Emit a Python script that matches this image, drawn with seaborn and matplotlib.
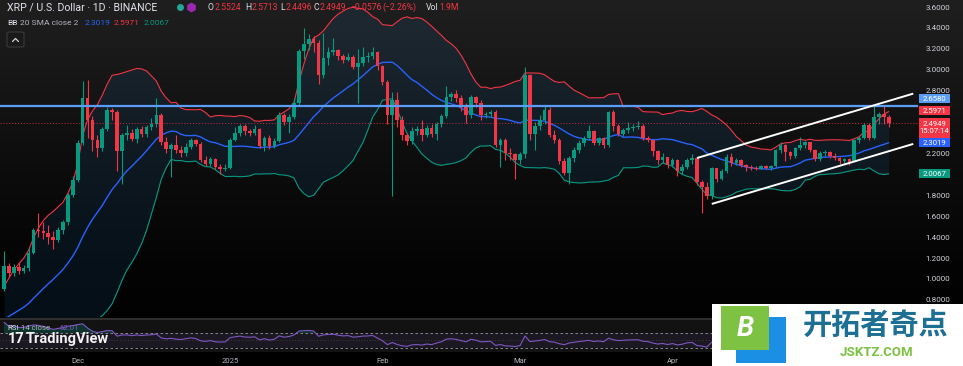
import numpy as np
import pandas as pd
import matplotlib
matplotlib.use("Agg")
import matplotlib.pyplot as plt
import seaborn as sns
from matplotlib.patches import Rectangle, FancyBboxPatch
from matplotlib.transforms import blended_transform_factory

# ---------------- data (XRP / USD, 1D, Binance) ----------------
start_date = "2024-11-16"
end_date = "2025-05-15"

opens = [0.90, 1.12, 1.06, 1.11, 1.08, 1.10, 1.25, 1.47, 1.46, 1.44,
         1.40, 1.37, 1.47, 1.54, 1.80, 1.95, 2.30, 2.73, 2.52, 2.33,
         2.25, 2.43, 2.615, 2.60, 2.22, 2.38, 2.40, 2.34, 2.43, 2.39,
         2.45, 2.48, 2.57, 2.31, 2.24, 2.28, 2.23, 2.20, 2.26, 2.33,
         2.29, 2.14, 2.10, 2.15, 2.07, 2.05, 2.06, 2.33, 2.40, 2.46,
         2.41, 2.40, 2.43, 2.27, 2.35, 2.27, 2.32, 2.57, 2.50, 2.55,
         2.68, 3.18, 3.25, 3.29, 3.26, 2.95, 3.11, 3.17, 3.19, 3.13,
         3.09, 3.12, 3.03, 3.06, 3.12, 3.13, 3.17, 3.04, 2.88, 2.57,
         2.71, 2.52, 2.38, 2.32, 2.41, 2.43, 2.38, 2.44, 2.39, 2.48,
         2.56, 2.74, 2.77, 2.73, 2.65, 2.57, 2.74, 2.68, 2.57, 2.58,
         2.60, 2.28, 2.33, 2.20, 2.19, 2.14, 2.19, 2.95, 2.39, 2.46,
         2.52, 2.62, 2.38, 2.33, 2.13, 2.01, 2.16, 2.23, 2.30, 2.35,
         2.41, 2.30, 2.345, 2.28, 2.60, 2.46, 2.39, 2.42, 2.44, 2.45,
         2.46, 2.35, 2.33, 2.22, 2.14, 2.17, 2.09, 2.14, 2.03, 2.07,
         2.14, 2.16, 1.93, 1.88, 1.79, 2.06, 1.96, 2.03, 2.17, 2.11,
         2.14, 2.09, 2.07, 2.06, 2.055, 2.08, 2.06, 2.08, 2.23, 2.28,
         2.21, 2.18, 2.25, 2.28, 2.31, 2.23, 2.15, 2.20, 2.21, 2.18,
         2.16, 2.13, 2.15, 2.12, 2.33, 2.35, 2.47, 2.35, 2.55, 2.58, 2.5524]

highs = [1.27, 1.15, 1.14, 1.15, 1.13, 1.30, 1.49, 1.63, 1.54, 1.52,
         1.46, 1.50, 1.56, 1.82, 1.98, 2.33, 2.89, 2.90, 2.56, 2.38,
         2.45, 2.64, 2.63, 2.62, 2.40, 2.47, 2.43, 2.45, 2.46, 2.47,
         2.54, 2.73, 2.59, 2.36, 2.30, 2.38, 2.27, 2.30, 2.35, 2.34,
         2.31, 2.18, 2.17, 2.16, 2.10, 2.10, 2.35, 2.45, 2.48, 2.48,
         2.43, 2.47, 2.44, 2.37, 2.38, 2.35, 2.60, 2.59, 2.58, 2.73,
         3.20, 3.40, 3.34, 3.32, 3.28, 3.35, 3.22, 3.30, 3.20, 3.15,
         3.16, 3.14, 3.20, 3.22, 3.17, 3.22, 3.18, 3.05, 2.90, 2.79,
         2.79, 2.56, 2.40, 2.45, 2.46, 2.52, 2.47, 2.48, 2.50, 2.58,
         2.84, 2.79, 2.81, 2.76, 2.68, 2.76, 2.75, 2.71, 2.60, 2.62,
         2.62, 2.35, 2.35, 2.25, 2.20, 2.21, 3.03, 2.96, 2.50, 2.57,
         2.65, 2.64, 2.42, 2.35, 2.16, 2.18, 2.26, 2.33, 2.37, 2.47,
         2.42, 2.36, 2.36, 2.61, 2.62, 2.48, 2.44, 2.50, 2.48, 2.51,
         2.48, 2.37, 2.34, 2.23, 2.20, 2.17, 2.16, 2.15, 2.10, 2.16,
         2.19, 2.17, 1.95, 1.93, 2.07, 2.06, 2.05, 2.19, 2.20, 2.16,
         2.15, 2.10, 2.09, 2.08, 2.09, 2.09, 2.09, 2.24, 2.31, 2.29,
         2.22, 2.26, 2.36, 2.32, 2.31, 2.24, 2.22, 2.23, 2.22, 2.20,
         2.17, 2.16, 2.16, 2.34, 2.37, 2.49, 2.49, 2.65, 2.60, 2.658, 2.5713]

lows = [0.88, 1.02, 1.03, 1.05, 1.06, 1.08, 1.24, 1.40, 1.38, 1.33,
        1.29, 1.35, 1.43, 1.52, 1.78, 1.93, 2.28, 2.35, 2.22, 2.17,
        2.22, 2.41, 2.52, 2.03, 1.91, 2.33, 2.32, 2.30, 2.36, 2.36,
        2.42, 2.45, 2.28, 2.20, 1.97, 2.20, 2.17, 2.18, 2.24, 2.27,
        2.12, 2.08, 2.08, 2.05, 2.00, 2.03, 2.05, 2.32, 2.37, 2.38,
        2.37, 2.38, 2.25, 2.22, 2.24, 2.25, 2.31, 2.47, 2.40, 2.53,
        2.66, 3.10, 3.19, 3.17, 2.86, 2.92, 3.05, 3.14, 3.09, 3.06,
        3.08, 3.01, 2.68, 3.04, 3.07, 3.10, 3.00, 2.85, 2.48, 1.79,
        2.45, 2.33, 2.28, 2.29, 2.38, 2.32, 2.36, 2.36, 2.33, 2.45,
        2.54, 2.70, 2.69, 2.61, 2.49, 2.54, 2.64, 2.52, 2.54, 2.55,
        2.26, 2.07, 2.14, 2.14, 1.96, 2.10, 2.16, 2.33, 2.23, 2.42,
        2.48, 2.36, 2.30, 2.10, 1.99, 1.91, 2.12, 2.20, 2.27, 2.33,
        2.28, 2.28, 2.25, 2.26, 2.41, 2.37, 2.37, 2.40, 2.41, 2.43,
        2.33, 2.31, 2.18, 2.10, 2.11, 2.06, 2.07, 1.98, 2.00, 2.05,
        2.10, 1.90, 1.63, 1.76, 1.76, 1.93, 1.95, 2.01, 2.08, 2.09,
        2.07, 2.03, 2.04, 2.04, 2.05, 2.05, 2.04, 2.07, 2.20, 2.13,
        2.15, 2.16, 2.23, 2.25, 2.21, 2.13, 2.13, 2.18, 2.16, 2.14,
        2.10, 2.11, 2.09, 2.12, 2.30, 2.34, 2.33, 2.34, 2.48, 2.48, 2.4496]

closes = [1.12, 1.06, 1.11, 1.08, 1.10, 1.25, 1.47, 1.46, 1.44, 1.40,
          1.37, 1.47, 1.54, 1.80, 1.95, 2.30, 2.73, 2.52, 2.33, 2.25,
          2.43, 2.615, 2.60, 2.22, 2.38, 2.40, 2.34, 2.43, 2.39, 2.45,
          2.48, 2.57, 2.31, 2.24, 2.28, 2.23, 2.20, 2.26, 2.33, 2.29,
          2.14, 2.10, 2.15, 2.07, 2.05, 2.06, 2.33, 2.40, 2.46, 2.41,
          2.40, 2.43, 2.27, 2.35, 2.27, 2.32, 2.57, 2.50, 2.55, 2.68,
          3.18, 3.25, 3.29, 3.26, 2.95, 3.11, 3.17, 3.19, 3.13, 3.09,
          3.12, 3.03, 3.06, 3.12, 3.13, 3.17, 3.04, 2.88, 2.57, 2.71,
          2.52, 2.38, 2.32, 2.41, 2.43, 2.38, 2.44, 2.39, 2.48, 2.56,
          2.74, 2.77, 2.73, 2.65, 2.57, 2.74, 2.68, 2.57, 2.58, 2.60,
          2.28, 2.33, 2.20, 2.19, 2.14, 2.19, 2.95, 2.39, 2.46, 2.52,
          2.62, 2.38, 2.33, 2.13, 2.01, 2.16, 2.23, 2.30, 2.35, 2.41,
          2.30, 2.345, 2.28, 2.60, 2.46, 2.39, 2.42, 2.44, 2.45, 2.46,
          2.35, 2.33, 2.22, 2.14, 2.17, 2.09, 2.14, 2.03, 2.07, 2.14,
          2.16, 1.93, 1.88, 1.79, 2.06, 1.96, 2.03, 2.17, 2.11, 2.14,
          2.09, 2.07, 2.06, 2.055, 2.08, 2.06, 2.08, 2.23, 2.28, 2.21,
          2.18, 2.25, 2.28, 2.31, 2.23, 2.15, 2.20, 2.21, 2.18, 2.16,
          2.13, 2.15, 2.12, 2.33, 2.35, 2.47, 2.35, 2.55, 2.58, 2.5524, 2.4949]

# closes of the 19 sessions before the visible window (Bollinger / RSI warm-up)
warmup_closes = [0.522, 0.527, 0.518, 0.507, 0.508, 0.508, 0.503, 0.499, 0.511,
                 0.536, 0.549, 0.561, 0.574, 0.615, 0.645, 0.702, 0.718, 0.776, 0.903]

price_ticks = [0.8, 1.0, 1.2, 1.4, 1.6, 1.8, 2.0, 2.2, 2.4, 2.6, 2.8, 3.0, 3.2, 3.4, 3.6]
hidden_ticks = [2.0, 2.4, 2.6]          # covered by the price-scale badges
month_labels = ["Dec", "2025", "Feb", "Mar", "Apr", "May"]
month_dates = ["2024-12-01", "2025-01-01", "2025-02-01", "2025-03-01", "2025-04-01", "2025-05-01"]

hline_price = 2.6580
channel_upper_dates = ["2025-04-06", "2025-05-20"]
channel_upper_prices = [2.156, 2.772]
channel_lower_dates = ["2025-04-09", "2025-05-20"]
channel_lower_prices = [1.717, 2.291]
rsi_value_text = "62.01"

assert len(opens) == len(highs) == len(lows) == len(closes) == 181

# ---------------- derived series ----------------
dates = pd.date_range(start_date, end_date, freq="D")
idx = np.arange(len(dates))
o = np.array(opens); h = np.array(highs); l = np.array(lows); c = np.array(closes)

def date_index(d):
    return (pd.Timestamp(d) - dates[0]).days

allc = pd.Series(warmup_closes + closes)
basis = allc.rolling(20).mean().to_numpy()[-len(c):]
sd = allc.rolling(20).std(ddof=0).to_numpy()[-len(c):]
upper = basis + 2 * sd
lower = basis - 2 * sd

delta = allc.diff()
gain = delta.clip(lower=0).ewm(alpha=1 / 14, adjust=False).mean()
loss = (-delta.clip(upper=0)).ewm(alpha=1 / 14, adjust=False).mean()
rsi = (100 - 100 / (1 + gain / loss)).to_numpy()[-len(c):]

# ---------------- style ----------------
sns.set_theme(style="dark", rc={"axes.facecolor": (0, 0, 0, 0), "figure.facecolor": "black",
                                "axes.edgecolor": (0, 0, 0, 0), "axes.grid": False})
plt.rcParams["font.family"] = ["Roboto", "DejaVu Sans"]

UP = "#089981"
DOWN = "#f23645"
TXT = "#e0e3eb"
W, H = 963, 366

def fx(px):
    return px / W

def fy(py):
    return 1 - py / H

fig = plt.figure(figsize=(W / 100, H / 100), dpi=100)
renderer = fig.canvas.get_renderer()

# background gradient
bg = fig.add_axes([0, 0, 1, 1], zorder=-10)
rows = np.arange(H)
shade = np.interp(rows, [0, 40, 150, 260, 366], [31, 27, 14, 4, 0]) / 255
img = np.repeat(shade[:, None], 3, axis=1)[:, None, :]
bg.imshow(img, aspect="auto", extent=[0, 1, 0, 1], origin="upper")
bg.axis("off")

XL = (-0.814, 185.96)
YL = (0.636, 3.667)

# ---------------- main price panel ----------------
ax = fig.add_axes([0, fy(317), fx(918), 317 / H])
ax.set_xlim(*XL)
ax.set_ylim(*YL)

ax.fill_between(idx, lower, upper, color="#2196f3", alpha=0.09, lw=0, zorder=1)
sns.lineplot(x=idx, y=upper, ax=ax, color=DOWN, lw=0.8, zorder=2)
sns.lineplot(x=idx, y=lower, ax=ax, color=UP, lw=0.8, zorder=2)
sns.lineplot(x=idx, y=basis, ax=ax, color="#2962ff", lw=1.0, zorder=2)

colors = np.where(c >= o, UP, DOWN)
ax.vlines(idx, l, h, colors=colors, lw=0.8, zorder=3)
body = np.maximum(np.abs(c - o), 0.008)
ax.bar(idx, body, bottom=np.minimum(o, c), width=0.74, color=colors, lw=0, zorder=4)

ax.axhline(hline_price, color="#5b9cf6", lw=1.6, zorder=5)
ax.axhline(c[-1], color=DOWN, lw=0.7, ls=(0, (1, 2)), alpha=0.8, zorder=5)

ax.plot([date_index(d) for d in channel_upper_dates], channel_upper_prices, color="white", lw=1.4, zorder=6,
        clip_on=False, solid_capstyle="butt")
ax.plot([date_index(d) for d in channel_lower_dates], channel_lower_prices, color="white", lw=1.4, zorder=6,
        clip_on=False, solid_capstyle="butt")

ax.set_xlabel(""); ax.set_ylabel("")
ax.set_xticks([])
ax.yaxis.tick_right()
ax.set_yticks(price_ticks)
ax.set_yticklabels(["" if any(abs(v - t) < 1e-9 for t in hidden_ticks) else f"{v:.4f}" for v in price_ticks])
ax.tick_params(axis="y", length=0, pad=5.5, labelsize=5.8, labelcolor="#d1d4dc")
for s in ax.spines.values():
    s.set_visible(False)

# price badges on the right scale
ytr = blended_transform_factory(fig.transFigure, ax.transData)
px_per_price = 317 / (YL[1] - YL[0])

def price_box(y_price, text, face, color="white", h_px=9.0):
    box_h = h_px / px_per_price
    rect = Rectangle((fx(919), y_price - box_h / 2), fx(31), box_h,
                     transform=ytr, facecolor=face, edgecolor="none", zorder=8)
    fig.patches.append(rect)
    fig.text(fx(934.5), y_price, text, transform=ytr, ha="center", va="center",
             fontsize=5.6, color=color, zorder=9, linespacing=1.05)

price_box(2.725, "2.6580", "#5b9cf6")
price_box(2.610, "2.5971", DOWN)
price_box(2.447, f"{c[-1]:.4f}\n15:07:14", DOWN, h_px=20)
price_box(2.3019, "2.3019", "#2962ff")
price_box(2.0067, "2.0067", UP)

# ---------------- RSI panel ----------------
rax = fig.add_axes([0, fy(352), fx(918), 33 / H])
rax.set_facecolor("#121212")
rax.set_xlim(*XL)
rax.set_ylim(19.3, 107.3)
rax.axhspan(30, 70, color="#7e57c2", alpha=0.09, lw=0)
rax.axhline(70, color="#9598a1", lw=0.6, ls=(0, (3, 3)))
rax.axhline(30, color="#9598a1", lw=0.6, ls=(0, (3, 3)))
rax.axhline(50, color="#9598a1", lw=0.5, ls=(0, (1, 3)), alpha=0.5)
rax.fill_between(idx, rsi, 70, where=rsi > 70, color=UP, alpha=0.25, lw=0, interpolate=True)
sns.lineplot(x=idx, y=rsi, ax=rax, color="#7e57c2", lw=0.8)
rax.set_xlabel(""); rax.set_ylabel("")
rax.set_yticks([])
rax.set_xticks([date_index(d) for d in month_dates])
rax.set_xticklabels(month_labels)
rax.tick_params(axis="x", length=0, pad=4, labelsize=5.5, labelcolor="#b2b5be")
for s in rax.spines.values():
    s.set_visible(False)

fig.add_artist(plt.Line2D([0, fx(918)], [fy(318.5), fy(318.5)], color="#2e2e2e", lw=1.5,
                          transform=fig.transFigure))

# ---------------- legend texts ----------------
fig.text(fx(7), fy(7.5), "XRP / U.S. Dollar · 1D · BINANCE", fontsize=7.6, color=TXT,
         va="center", ha="left")
fig.add_artist(plt.Line2D([fx(180)], [fy(7)], marker="o", ms=4, color="#26a69a",
                          transform=fig.transFigure))
fig.add_artist(plt.Line2D([fx(191)], [fy(7)], marker="h", ms=6, color="#9c27b0",
                          transform=fig.transFigure))

def label_value(px, py, label, value, vcol, size):
    t = fig.text(fx(px), fy(py), label, fontsize=size, color=TXT, va="center", ha="left")
    x1 = t.get_window_extent(renderer).x1 if label else px
    fig.text(x1 / W + fx(0.5), fy(py), value, fontsize=size, color=vcol, va="center", ha="left")

label_value(208, 7.5, "O", "2.5524", DOWN, 6.2)
label_value(245, 7.5, "H", "2.5713", DOWN, 6.2)
label_value(280, 7.5, "L", "2.4496", DOWN, 6.2)
label_value(313, 7.5, "C", "2.4949", DOWN, 6.2)
fig.text(fx(350), fy(7.5), "−0.0576", fontsize=6.2, color=DOWN, va="center", ha="left")
fig.text(fx(382), fy(7.5), "(−2.26%)", fontsize=6.2, color=DOWN, va="center", ha="left")
label_value(426, 7.5, "Vol", "1.9M", DOWN, 6.2)

bb_parts = [(7, "BB", TXT), (20, "20 SMA close 2", "#b2b5be"), (85, "2.3019", "#2962ff"),
            (114, "2.5971", DOWN), (144, "2.0067", UP)]
for px, t, col in bb_parts:
    fig.text(fx(px), fy(23), t, fontsize=6.0, color=col, va="center", ha="left")

btn = FancyBboxPatch((fx(7), fy(47)), fx(17), 15 / H, boxstyle="round,pad=0,rounding_size=0.003",
                     transform=fig.transFigure, facecolor="#1a1a1a", edgecolor="#3a3a3a", lw=0.8)
fig.patches.append(btn)
fig.add_artist(plt.Line2D([fx(12.5), fx(15.5), fx(18.5)], [fy(41.5), fy(38.5), fy(41.5)],
                          color="#d1d4dc", lw=0.9, transform=fig.transFigure))

# RSI legend + TradingView mark
fig.text(fx(7), fy(327.5), "RSI", fontsize=5.6, color=TXT, va="center", ha="left", zorder=6)
fig.text(fx(21), fy(327.5), "14 close", fontsize=5.6, color="#b2b5be", va="center", ha="left", zorder=6)
fig.text(fx(59), fy(327.5), rsi_value_text, fontsize=5.6, color="#7e57c2", va="center", ha="left", zorder=6)
fig.text(fx(8), fy(339), "17", fontsize=10.5, color="white", fontweight="bold", va="center", ha="left",
         zorder=6, alpha=0.95)
fig.text(fx(26), fy(339), "TradingView", fontsize=10.5, color="white", fontweight="bold", va="center",
         ha="left", zorder=6, alpha=0.95)

# ---------------- watermark ----------------
fig.patches.append(Rectangle((fx(712), 0), 1 - fx(712), 62 / H, transform=fig.transFigure,
                             facecolor="white", edgecolor="none", zorder=10))
fig.patches.append(Rectangle((fx(736), fy(363)), fx(50), 46 / H, transform=fig.transFigure,
                             facecolor="#1a8fe3", edgecolor="none", zorder=11))
fig.patches.append(Rectangle((fx(721), fy(350)), fx(48), 44 / H, transform=fig.transFigure,
                             facecolor="#7dc242", edgecolor="none", zorder=12))
fig.text(fx(745), fy(328), "B", fontsize=20, color="white", fontweight="bold", style="italic",
         ha="center", va="center", zorder=13)
fig.text(fx(876), fy(326), "开拓者奇点", fontsize=21, color="#1d6f94", fontweight="bold",
         family=["Noto Sans CJK SC", "DejaVu Sans"], ha="center", va="center", zorder=13)
fig.text(fx(877), fy(353), "JSKTZ.COM", fontsize=9.5, color="#7cc142", fontweight="bold",
         ha="center", va="center", zorder=13)

fig.savefig("out.png", dpi=100, facecolor="black")
